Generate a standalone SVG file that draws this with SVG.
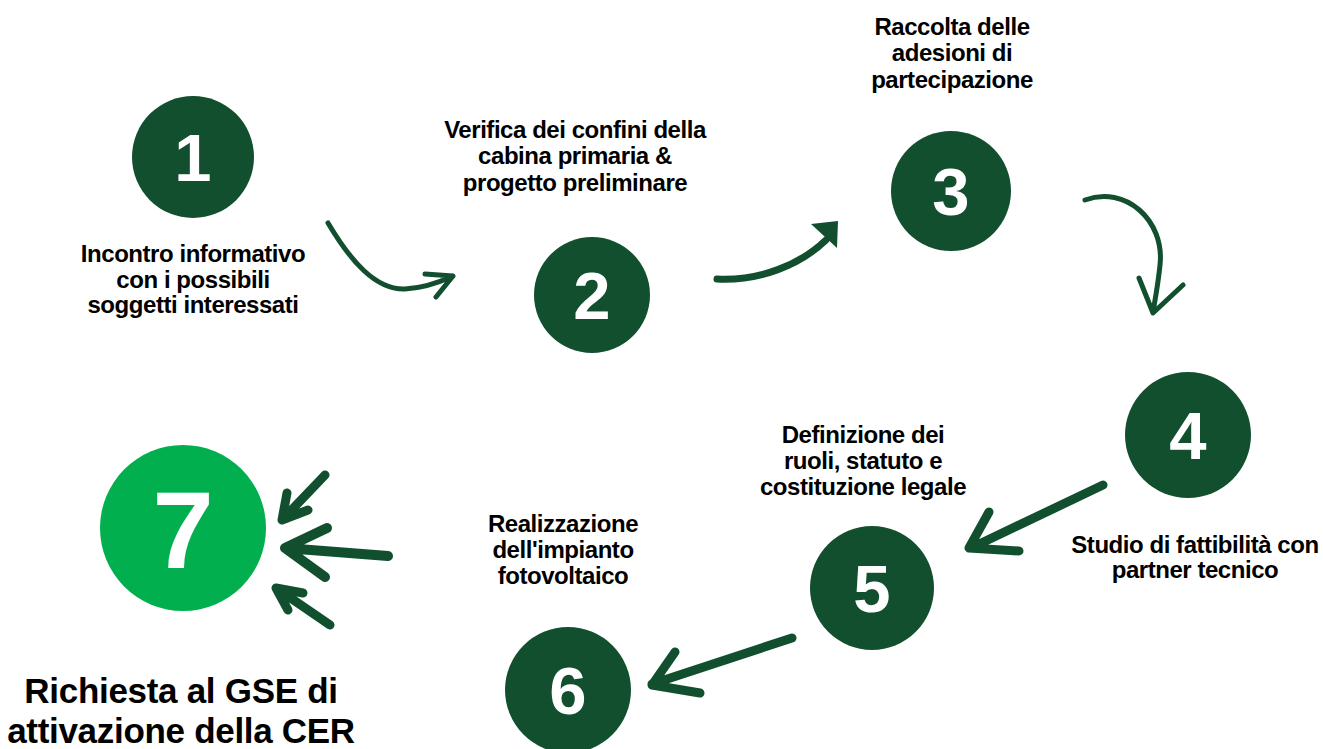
<svg xmlns="http://www.w3.org/2000/svg" width="1323" height="749" viewBox="0 0 1323 749">
<style>
.c{fill:#114f2e}
.c7{fill:#02af4f}
.n{font-family:"Liberation Sans",Arial,sans-serif;font-weight:bold;fill:#fff;text-anchor:middle}
.t{font-family:"Liberation Sans",Arial,sans-serif;font-weight:bold;font-size:24px;fill:#000;text-anchor:middle;letter-spacing:-0.45px}
.h{font-family:"Liberation Sans",Arial,sans-serif;font-weight:bold;font-size:35px;fill:#000;text-anchor:middle;letter-spacing:-0.3px}
.a{fill:none;stroke:#114f2e;stroke-linecap:round;stroke-linejoin:round}
</style>
<rect width="1323" height="749" fill="#fff"/>
<g id="node1"><circle class="c" cx="193" cy="157" r="61"/><text class="n" x="193" y="181" font-size="67">1</text>
<text class="t" x="193" y="262">Incontro informativo</text><text class="t" x="193" y="288">con i possibili</text><text class="t" x="193" y="313">soggetti interessati</text></g>
<g id="node2"><circle class="c" cx="592" cy="295" r="58"/><text class="n" x="592" y="319" font-size="67">2</text>
<text class="t" x="575" y="138">Verifica dei confini della</text><text class="t" x="575" y="164">cabina primaria &amp;</text><text class="t" x="575" y="191">progetto preliminare</text></g>
<g id="node3"><circle class="c" cx="951" cy="191" r="60"/><text class="n" x="951" y="215" font-size="67">3</text>
<text class="t" x="952" y="35">Raccolta delle</text><text class="t" x="952" y="61">adesioni di</text><text class="t" x="952" y="88">partecipazione</text></g>
<g id="node4"><circle class="c" cx="1188" cy="435" r="63"/><text class="n" x="1188" y="459" font-size="67">4</text>
<text class="t" x="1195" y="553">Studio di fattibilità con</text><text class="t" x="1195" y="578">partner tecnico</text></g>
<g id="node5"><circle class="c" cx="872" cy="588" r="62"/><text class="n" x="872" y="612" font-size="67">5</text>
<text class="t" x="863" y="443">Definizione dei</text><text class="t" x="863" y="469">ruoli, statuto e</text><text class="t" x="863" y="495">costituzione legale</text></g>
<g id="node6"><circle class="c" cx="568" cy="690" r="63"/><text class="n" x="568" y="714" font-size="67">6</text>
<text class="t" x="563" y="532">Realizzazione</text><text class="t" x="563" y="558">dell'impianto</text><text class="t" x="563" y="584">fotovoltaico</text></g>
<g id="node7"><circle class="c7" cx="183" cy="528" r="83"/><text class="n" x="183" y="568" font-size="110">7</text>
<text class="h" x="181" y="703">Richiesta al GSE di</text><text class="h" x="181" y="743">attivazione della CER</text></g>
<g id="connectors">
<path class="a" stroke-width="5" d="M328,223 C350,260 375,290 405,289 C425,288 440,282 453,276 M425,274 L453,276 L436,297"/>
<path class="a" stroke-width="7" d="M717,279 C760,281 800,265 826,240"/>
<polygon fill="#114f2e" points="811,224 838,221 837,248"/>
<path class="a" stroke-width="5" d="M1085,200 C1125,185 1165,220 1160,265 C1158,285 1155,300 1153,312 M1139,278 L1153,313 L1183,285"/>
<path class="a" stroke-width="9" d="M1103,485 L971,548 M989,512 L969,548 L1019,551"/>
<path class="a" stroke-width="9" d="M792,638 L652,684 M675,652 L652,685 L700,693"/>
<path class="a" stroke-width="9" d="M325,475 L282,520 M287,493 L282,520 L308,510"/>
<path class="a" stroke-width="10" d="M388,556 L285,548 M327,528 L285,548 L325,577"/>
<path class="a" stroke-width="9" d="M330,625 L276,588 M303,593 L276,588 L288,610"/>
</g>
</svg>
